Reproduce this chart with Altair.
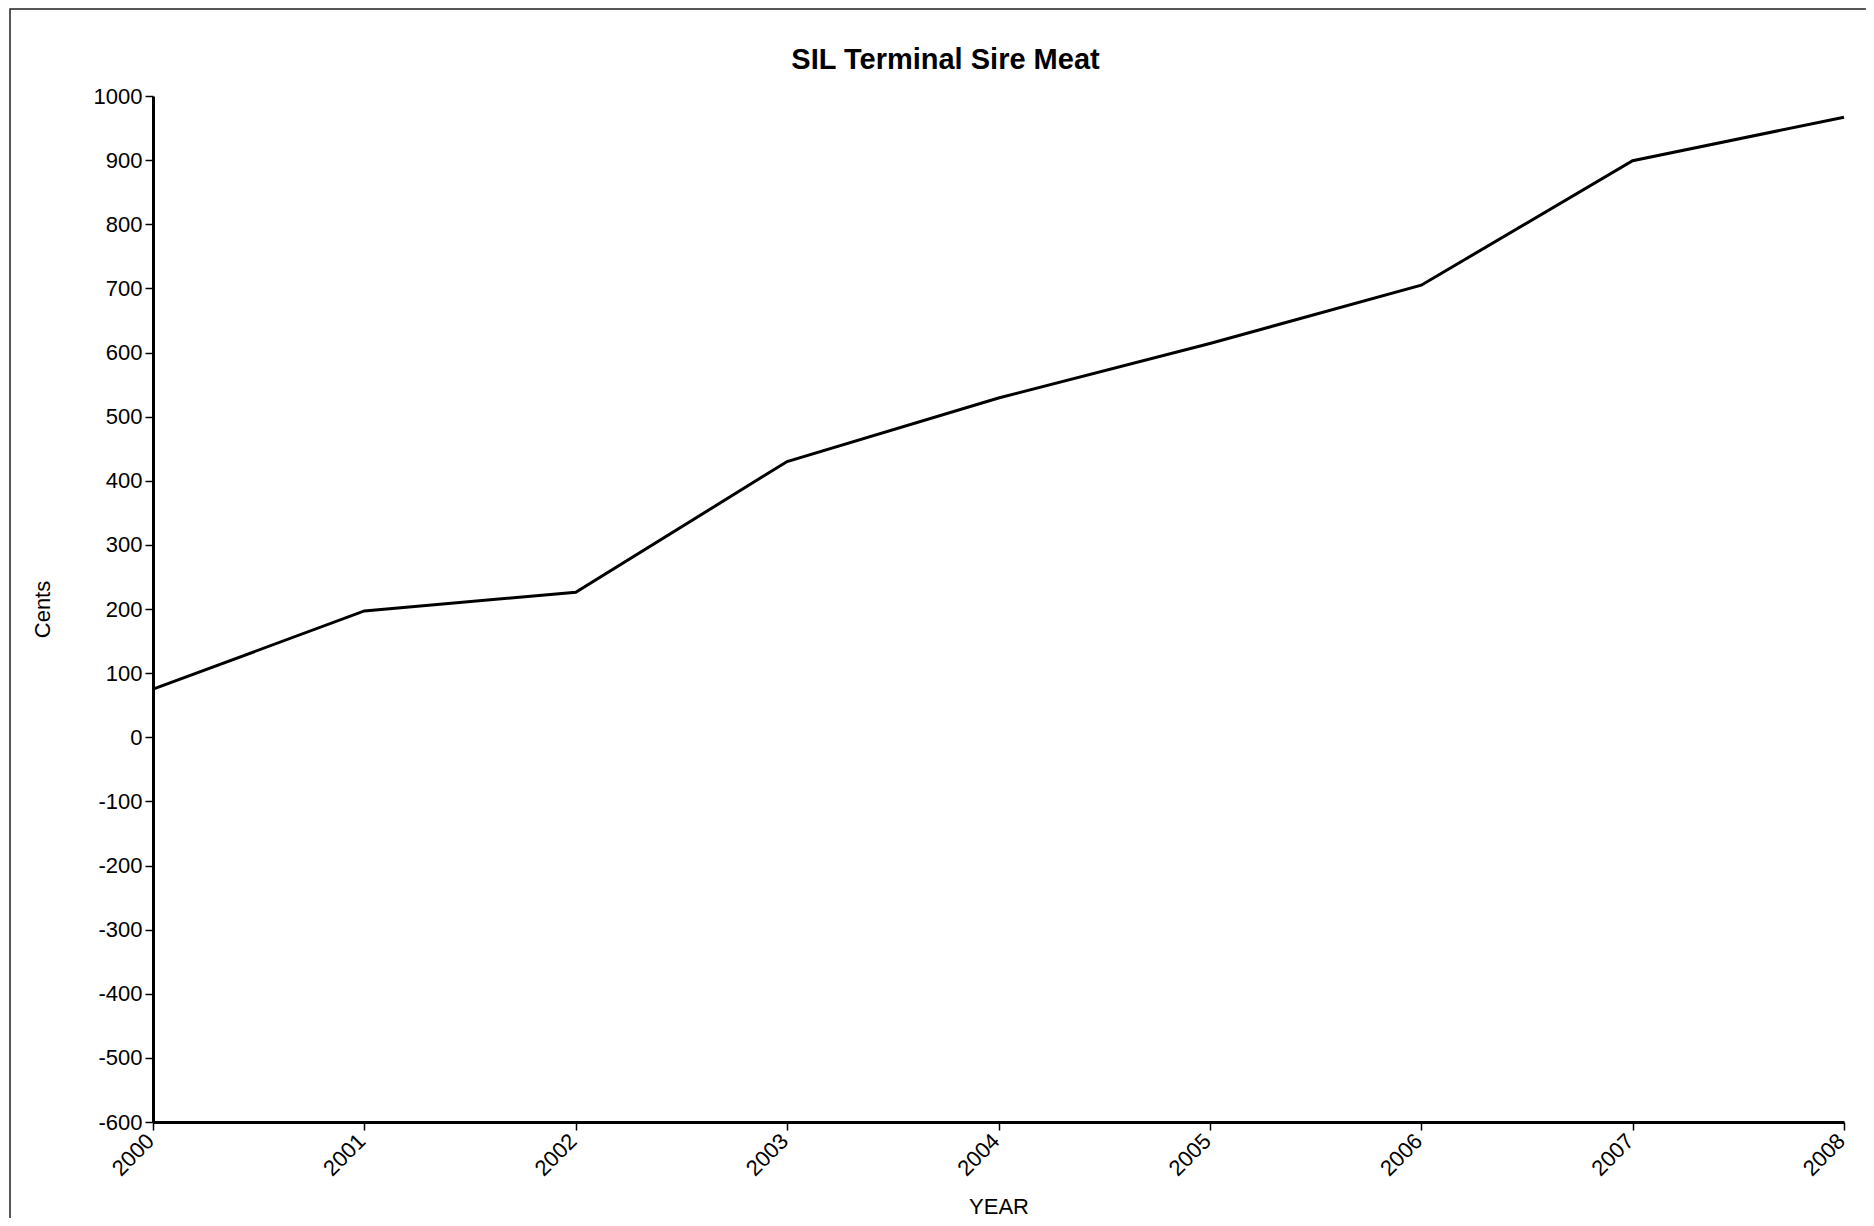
import pandas as pd
import altair as alt

# values
years = [2000, 2001, 2002, 2003, 2004, 2005, 2006, 2007, 2008]
cents = [75, 197, 226, 430, 529, 614, 705, 899, 967]
y_ticks = [-600, -500, -400, -300, -200, -100, 0, 100, 200, 300, 400, 500, 600, 700, 800, 900, 1000]

FONT = "Liberation Sans"
W, H = 1691, 1026

df = pd.DataFrame({"YEAR": years, "Cents": cents})

# thin border round the whole figure (right/bottom edges run off the page)
frame = alt.Chart(pd.DataFrame({"f": [0]})).mark_rect(
    fillOpacity=0, stroke="#222222", strokeWidth=1.5
).encode(
    x=alt.value(-143), x2=alt.value(1900),
    y=alt.value(-87), y2=alt.value(1300),
)

line = alt.Chart(df).mark_line(color="black", strokeWidth=3).encode(
    x=alt.X("YEAR:Q",
            scale=alt.Scale(domain=[years[0], years[-1]], nice=False, zero=False),
            axis=alt.Axis(values=years, format="d", labelAngle=-45,
                          labelAlign="right", labelBaseline="top",
                          labelPadding=0, labelOffset=-10,
                          title="YEAR", titleX=W / 2, titleY=91,
                          titleBaseline="alphabetic")),
    y=alt.Y("Cents:Q",
            scale=alt.Scale(domain=[y_ticks[0], y_ticks[-1]], nice=False),
            axis=alt.Axis(values=y_ticks, labelPadding=3,
                          labelExpr="'' + datum.value",
                          title="Cents", titleX=-104, titleY=H / 2,
                          titleAngle=-90, titleAlign="center",
                          titleBaseline="alphabetic")),
)

chart = alt.layer(frame, line).properties(
    width=W,
    height=H,
    autosize=alt.AutoSizeParams(type="none"),
    padding={"left": 145, "top": 88, "right": 22, "bottom": 96},
    title=alt.TitleParams("SIL Terminal Sire Meat", font=FONT, fontSize=29,
                          fontWeight="bold", color="black", anchor="middle",
                          frame="group", dx=-53, baseline="alphabetic", offset=-90),
).configure_axis(
    grid=False,
    domainColor="black", domainWidth=3,
    tickColor="black", tickWidth=1.5, tickSize=8,
    labelFont=FONT, labelFontSize=22, labelColor="black",
    titleFont=FONT, titleFontSize=22, titleFontWeight="normal", titleColor="black",
).configure_view(strokeWidth=0)

chart.save("out.html", embed_options={"renderer": "svg", "actions": False})
